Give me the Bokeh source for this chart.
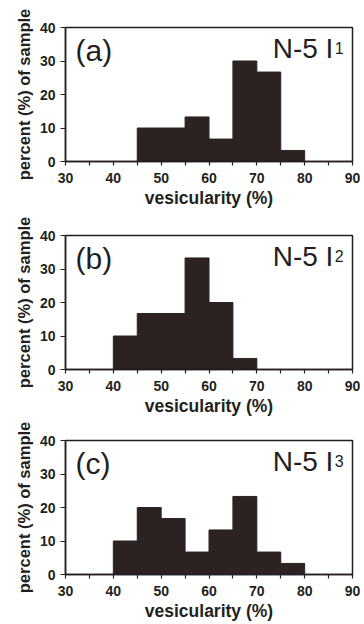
from bokeh.plotting import figure
from bokeh.layouts import column
from bokeh.models import FixedTicker, Label, Range1d
from bokeh.embed import file_html
from bokeh.resources import INLINE

# Histogram bins (vesicularity %, lower/upper edges) and percent of sample
a_left = [45, 50, 55, 60, 65, 70, 75]
a_right = [50, 55, 60, 65, 70, 75, 80]
a_pct = [10.0, 10.0, 13.3, 6.7, 30.0, 26.7, 3.3]

b_left = [40, 45, 50, 55, 60, 65]
b_right = [45, 50, 55, 60, 65, 70]
b_pct = [10.0, 16.7, 16.7, 33.3, 20.0, 3.3]

c_left = [40, 45, 50, 55, 60, 65, 70, 75]
c_right = [45, 50, 55, 60, 65, 70, 75, 80]
c_pct = [10.0, 20.0, 16.7, 6.7, 13.3, 23.3, 6.7, 3.3]

x_ticks = [30, 40, 50, 60, 70, 80, 90]
x_minor = [35, 45, 55, 65, 75, 85]
y_ticks = [0, 10, 20, 30, 40]

panel_tags = ["(a)", "(b)", "(c)"]
sample_names = ["N-5 I", "N-5 I", "N-5 I"]
sample_subs = ["1", "2", "3"]

INK = "#231f20"
BAR = "#2b2221"
FONT = "Liberation Sans"


def make_panel(left, right, pct, tag, name, sub, border_top, border_bottom):
    p = figure(frame_width=287, frame_height=134,
               min_border_left=65, min_border_top=border_top,
               min_border_right=8, min_border_bottom=border_bottom,
               x_range=Range1d(30, 90), y_range=Range1d(0, 40),
               output_backend="svg", toolbar_location=None,
               background_fill_color="white", border_fill_color="white")
    p.quad(left=left, right=right, top=pct, bottom=0,
           fill_color=BAR, line_color=BAR, line_width=1)

    p.xgrid.visible = False
    p.ygrid.visible = False
    p.outline_line_color = INK
    p.outline_line_width = 1.5

    xa = p.xaxis[0]
    xa.ticker = FixedTicker(ticks=x_ticks, minor_ticks=x_minor)
    xa.axis_label = "vesicularity (%)"
    ya = p.yaxis[0]
    ya.ticker = FixedTicker(ticks=y_ticks, minor_ticks=[])
    ya.axis_label = "percent (%) of sample"

    for ax in (xa, ya):
        ax.axis_line_color = INK
        ax.axis_line_width = 1.5
        ax.major_tick_line_color = INK
        ax.major_tick_line_width = 1.2
        ax.minor_tick_line_color = INK
        ax.minor_tick_line_width = 1.2
        ax.major_tick_in = 0
        ax.minor_tick_in = 0
        ax.major_label_text_font = FONT
        ax.major_label_text_font_style = "bold"
        ax.major_label_text_font_size = "14px"
        ax.major_label_text_color = INK
        ax.axis_label_text_font = FONT
        ax.axis_label_text_font_style = "bold"
        ax.axis_label_text_color = INK
    xa.axis_label_text_font_size = "17.5px"
    ya.axis_label_text_font_size = "16.5px"
    xa.major_tick_out = 4
    xa.minor_tick_out = 4
    xa.major_label_standoff = 7
    xa.axis_label_standoff = 2
    ya.major_tick_out = 5
    ya.minor_tick_out = 0
    ya.major_label_standoff = 5
    ya.axis_label_standoff = 4

    p.add_layout(Label(x=32.1, y=33.0, text=tag, text_font=FONT,
                       text_font_size="30px", text_color=INK,
                       text_baseline="middle", text_align="left"))
    p.add_layout(Label(x=86.0, y=33.8, text=name, text_font=FONT,
                       text_font_size="28px", text_color=INK,
                       text_baseline="alphabetic", text_align="right"))
    p.add_layout(Label(x=86.3, y=33.8, text=sub, text_font=FONT,
                       text_font_size="16px", text_color=INK,
                       text_baseline="alphabetic", text_align="left"))
    return p


pa = make_panel(a_left, a_right, a_pct, panel_tags[0], sample_names[0], sample_subs[0], 27, 52)
pb = make_panel(b_left, b_right, b_pct, panel_tags[1], sample_names[1], sample_subs[1], 22, 50)
pc = make_panel(c_left, c_right, c_pct, panel_tags[2], sample_names[2], sample_subs[2], 21, 40)

layout = column(pa, pb, pc, spacing=0)
open("out.html", "w").write(file_html(layout, INLINE))
